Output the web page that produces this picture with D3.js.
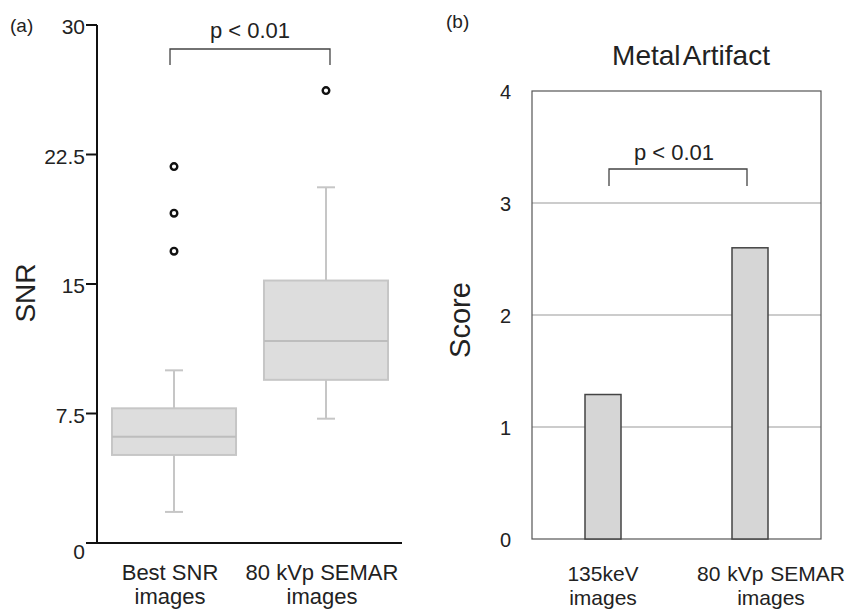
<!DOCTYPE html>
<html>
<head>
<meta charset="utf-8">
<script src="https://cdn.jsdelivr.net/npm/d3@7"></script>
<style>
  body { margin: 0; background: #fff; }
  text { font-family: Arial, "Liberation Sans", sans-serif; fill: #222; }
</style>
</head>
<body>
<script>
// panel (a) - box plot of SNR
let boxGroups = ["Best SNR|images", "80 kVp SEMAR|images"];
let boxMin = [1.8, 7.2];
let boxQ1 = [5.1, 9.45];
let boxMedian = [6.15, 11.7];
let boxQ3 = [7.8, 15.2];
let boxMax = [10.0, 20.6];
let boxOutliers = [[21.8, 19.1, 16.9], [26.2]];
let snrTicks = [0, 7.5, 15, 22.5, 30];

// panel (b) - bar chart of metal artifact score
let barGroups = ["135keV|images", "80 kVp SEMAR|images"];
let barScores = [1.29, 2.6];
let scoreTicks = [0, 1, 2, 3, 4];

let width = 852, height = 610;

let svg = d3.select("body").append("svg")
    .attr("width", width)
    .attr("height", height);

// ---------- (a) ----------
let ya = d3.scaleLinear().domain([0, 30]).range([543, 25]);
let xa = d3.scaleBand().domain(boxGroups).range([112, 388]).paddingInner(0.184).paddingOuter(0);

let ga = svg.append("g");

ga.append("text").attr("x", 10).attr("y", 32).style("font-size", "19px").text("(a)");

// axis lines
ga.append("line").attr("x1", 97).attr("x2", 97).attr("y1", ya(30)).attr("y2", ya(0))
    .attr("stroke", "#111").attr("stroke-width", 2);
ga.append("line").attr("x1", 97).attr("x2", 402).attr("y1", ya(0)).attr("y2", ya(0))
    .attr("stroke", "#111").attr("stroke-width", 2);

let tickA = ga.selectAll("g.tick").data(snrTicks).enter().append("g")
    .attr("transform", d => `translate(0,${ya(d)})`);
tickA.append("line").attr("x1", 86).attr("x2", 97).attr("stroke", "#111").attr("stroke-width", 2);
tickA.append("text")
    .attr("x", 85)
    .attr("y", d => d == 0 ? 16 : 9)
    .attr("text-anchor", "end")
    .style("font-size", "21px")
    .text(d => d);

ga.append("text")
    .attr("transform", "translate(35,293) rotate(-90)")
    .attr("text-anchor", "middle")
    .style("font-size", "28px")
    .text("SNR");

let boxes = ga.selectAll("g.box").data(boxGroups).enter().append("g");

boxes.each(function (d, i) {
    let g = d3.select(this);
    let x0 = xa(d), bw = xa.bandwidth(), cx = x0 + bw / 2;
    let grey = "#c6c6c6";
    g.append("line").attr("x1", cx).attr("x2", cx).attr("y1", ya(boxMax[i])).attr("y2", ya(boxQ3[i]))
        .attr("stroke", grey).attr("stroke-width", 2);
    g.append("line").attr("x1", cx).attr("x2", cx).attr("y1", ya(boxQ1[i])).attr("y2", ya(boxMin[i]))
        .attr("stroke", grey).attr("stroke-width", 2);
    g.append("line").attr("x1", cx - 9).attr("x2", cx + 9).attr("y1", ya(boxMax[i])).attr("y2", ya(boxMax[i]))
        .attr("stroke", grey).attr("stroke-width", 2);
    g.append("line").attr("x1", cx - 9).attr("x2", cx + 9).attr("y1", ya(boxMin[i])).attr("y2", ya(boxMin[i]))
        .attr("stroke", grey).attr("stroke-width", 2);
    g.append("rect").attr("x", x0).attr("width", bw)
        .attr("y", ya(boxQ3[i])).attr("height", ya(boxQ1[i]) - ya(boxQ3[i]))
        .attr("fill", "#dddddd").attr("stroke", grey).attr("stroke-width", 2);
    g.append("line").attr("x1", x0).attr("x2", x0 + bw).attr("y1", ya(boxMedian[i])).attr("y2", ya(boxMedian[i]))
        .attr("stroke", "#bdbdbd").attr("stroke-width", 2);
    g.selectAll("circle").data(boxOutliers[i]).enter().append("circle")
        .attr("cx", cx).attr("cy", v => ya(v)).attr("r", 3.3)
        .attr("fill", "#fff").attr("stroke", "#111").attr("stroke-width", 2.4);

    let lines = d.split("|");
    g.append("text").attr("x", cx - 4).attr("y", 580).attr("text-anchor", "middle")
        .style("font-size", "22px").text(lines[0]);
    g.append("text").attr("x", cx - 4).attr("y", 604).attr("text-anchor", "middle")
        .style("font-size", "22px").text(lines[1]);
});

// significance bracket (a)
let bxa1 = xa(boxGroups[0]) + xa.bandwidth() / 2 - 4, bxa2 = xa(boxGroups[1]) + xa.bandwidth() / 2 + 4;
ga.append("path")
    .attr("d", `M ${bxa1} 65 L ${bxa1} 49 L ${bxa2} 49 L ${bxa2} 65`)
    .attr("fill", "none").attr("stroke", "#444").attr("stroke-width", 1.3);
ga.append("text").attr("x", (bxa1 + bxa2) / 2).attr("y", 38).attr("text-anchor", "middle")
    .style("font-size", "22px").text("p < 0.01");

// ---------- (b) ----------
let yb = d3.scaleLinear().domain([0, 4]).range([539, 91]);
let xb = d3.scalePoint().domain(barGroups).range([603, 750]);
let barW = 36;

let gb = svg.append("g");

gb.append("text").attr("x", 446).attr("y", 28).style("font-size", "19px").text("(b)");
gb.append("text").attr("x", 691).attr("y", 65).attr("text-anchor", "middle")
    .style("font-size", "28px").style("word-spacing", "-4px").text("Metal Artifact");

// gridlines
gb.selectAll("line.grid").data(scoreTicks.filter(d => d > 0 && d < 4)).enter().append("line")
    .attr("x1", 532).attr("x2", 821).attr("y1", d => yb(d)).attr("y2", d => yb(d))
    .attr("stroke", "#999").attr("stroke-width", 1);

gb.append("rect").attr("x", 532).attr("y", yb(4)).attr("width", 821 - 532).attr("height", yb(0) - yb(4))
    .attr("fill", "none").attr("stroke", "#555").attr("stroke-width", 1.2);

gb.selectAll("text.tick").data(scoreTicks).enter().append("text")
    .attr("x", 511).attr("y", d => yb(d) + 8)
    .attr("text-anchor", "end")
    .style("font-size", "20px")
    .text(d => d);

gb.append("text")
    .attr("transform", "translate(470,320) rotate(-90)")
    .attr("text-anchor", "middle")
    .style("font-size", "29px")
    .text("Score");

gb.selectAll("rect.bar").data(barGroups).enter().append("rect")
    .attr("x", d => xb(d) - barW / 2)
    .attr("width", barW)
    .attr("y", (d, i) => yb(barScores[i]))
    .attr("height", (d, i) => yb(0) - yb(barScores[i]))
    .attr("fill", "#d6d6d6").attr("stroke", "#444").attr("stroke-width", 1.5);

gb.selectAll("g.lbl").data(barGroups).enter().append("g")
    .each(function (d, i) {
        let lines = d.split("|");
        let cx = xb(d) + (i == 1 ? 21 : 0);
        d3.select(this).append("text").attr("x", cx).attr("y", 581).attr("text-anchor", "middle")
            .style("font-size", "21px").style("word-spacing", "1px").text(lines[0]);
        d3.select(this).append("text").attr("x", cx).attr("y", 605).attr("text-anchor", "middle")
            .style("font-size", "21px").text(lines[1]);
    });

// significance bracket (b)
let bxb1 = xb(barGroups[0]) + 6, bxb2 = xb(barGroups[1]) - 3;
gb.append("path")
    .attr("d", `M ${bxb1} 186 L ${bxb1} 169 L ${bxb2} 169 L ${bxb2} 186`)
    .attr("fill", "none").attr("stroke", "#444").attr("stroke-width", 1.3);
gb.append("text").attr("x", (bxb1 + bxb2) / 2 - 4).attr("y", 160).attr("text-anchor", "middle")
    .style("font-size", "22px").text("p < 0.01");
</script>
</body>
</html>
